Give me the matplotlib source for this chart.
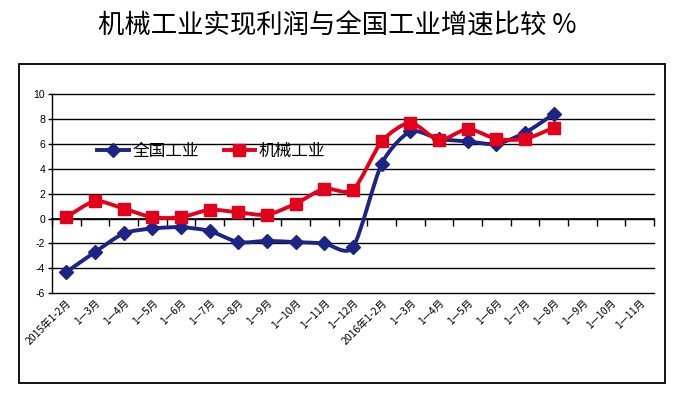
import matplotlib
matplotlib.use('Agg')
import matplotlib.pyplot as plt
from matplotlib.path import Path
from matplotlib.patches import PathPatch, Rectangle
from matplotlib.lines import Line2D

plt.rcParams['font.family'] = ['Noto Sans CJK SC', 'DejaVu Sans']

# categories (21) and series (18 values each)
months = ["2015年1-2月", "1—3月", "1—4月", "1—5月", "1—6月", "1—7月", "1—8月",
          "1—9月", "1—10月", "1—11月", "1—12月",
          "2016年1-2月", "1—3月", "1—4月", "1—5月", "1—6月", "1—7月", "1—8月",
          "1—9月", "1—10月", "1—11月"]
national = [-4.3, -2.7, -1.2, -0.8, -0.7, -1.0, -1.9, -1.8, -1.9, -2.0, -2.3,
            4.4, 7.0, 6.4, 6.2, 6.0, 6.9, 8.4]
machinery = [0.1, 1.4, 0.8, 0.1, 0.1, 0.7, 0.5, 0.3, 1.2, 2.4, 2.3,
             6.2, 7.7, 6.3, 7.2, 6.4, 6.4, 7.3]
yticks = [-6, -4, -2, 0, 2, 4, 6, 8, 10]

BLUE = "#1c2585"
RED = "#e3001b"


def smooth_path(xs, ys, k=8.0):
    # cubic Bezier through the points (Excel-like smoothed line)
    pts = list(zip(xs, ys))
    n = len(pts)
    verts = [pts[0]]
    codes = [Path.MOVETO]
    for i in range(n - 1):
        p0 = pts[i - 1] if i > 0 else pts[i]
        p1 = pts[i]
        p2 = pts[i + 1]
        p3 = pts[i + 2] if i + 2 < n else pts[i + 1]
        c1 = (p1[0] + (p2[0] - p0[0]) / k, p1[1] + (p2[1] - p0[1]) / k)
        c2 = (p2[0] - (p3[0] - p1[0]) / k, p2[1] - (p3[1] - p1[1]) / k)
        verts += [c1, c2, p2]
        codes += [Path.CURVE4] * 3
    return Path(verts, codes)


fig = plt.figure(figsize=(6.75, 3.94), dpi=100)
ax = fig.add_axes([0.077, 0.256, 0.892, 0.505])

for vals, color, marker, ms, z in [(national, BLUE, "D", 7, 3), (machinery, RED, "s", 8.5, 4)]:
    xv = list(range(len(vals)))
    ax.add_patch(PathPatch(smooth_path(xv, vals), fill=False, edgecolor=color,
                           linewidth=2.8, zorder=z, capstyle='round', joinstyle='round'))
    ax.plot(xv, vals, linestyle='none', marker=marker, markersize=ms, color=color, zorder=z)

ax.set_xlim(-0.5, len(months) - 0.5)
ax.set_ylim(-6, 10)
ax.set_yticks(yticks)
ax.set_yticklabels([str(v) for v in yticks], fontsize=7.5, family=['Liberation Sans'])
ax.yaxis.grid(True, color='black', linewidth=1.0)
for gl in ax.get_ygridlines():
    gl.set_clip_on(False)
ax.set_axisbelow(True)
ax.tick_params(axis='y', direction='out', length=3, width=1, pad=2)

ax.set_xticks(range(len(months)))
ax.set_xticklabels(months, rotation=45, ha='right', va='top', rotation_mode='anchor',
                   fontsize=7.5)
ax.tick_params(axis='x', length=0, pad=3)

for s in ['top', 'right', 'bottom']:
    ax.spines[s].set_visible(False)
ax.spines['left'].set_linewidth(1.0)

# x axis line at y = 0 with tick marks between categories
sec = ax.secondary_xaxis(6 / 16)
sec.set_xticks([i + 0.5 for i in range(-1, len(months))])
sec.set_xticklabels([])
sec.tick_params(direction='out', length=5, width=1)
sec.spines['bottom'].set_linewidth(1.2)

handles = [Line2D([], [], color=BLUE, marker="D", markersize=7, linewidth=2.8),
           Line2D([], [], color=RED, marker="s", markersize=8.5, linewidth=2.8)]
ax.legend(handles, ["全国工业", "机械工业"], loc='upper left', bbox_to_anchor=(0.05, 0.83),
          ncol=2, frameon=False, fontsize=12, handlelength=1.9, columnspacing=1.5,
          handletextpad=0.2)

fig.text(0.5, 0.935, "机械工业实现利润与全国工业增速比较 %", ha='center', va='center',
         fontsize=19)
fig.add_artist(Rectangle((19 / 675, 1 - 383 / 394), 646 / 675, 319 / 394,
                         transform=fig.transFigure, fill=False, edgecolor='black', linewidth=1.3))

fig.savefig("out.png", dpi=100, facecolor='white')
